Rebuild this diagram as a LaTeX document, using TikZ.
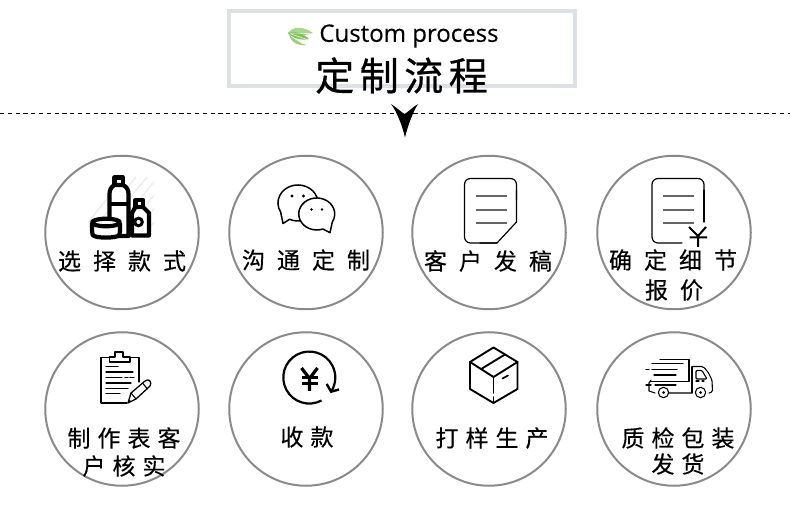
\documentclass[tikz,border=0pt]{standalone}
\usepackage{fontspec}
\newfontfamily\cjk[FakeBold=0.35]{Noto Sans CJK SC}
\newfontfamily\cjkt[FakeBold=0.6]{Noto Sans CJK SC}
\newfontfamily\latinf[FakeBold=0.3]{Open Sans}
\definecolor{framegray}{HTML}{DDE1E6}
\definecolor{ringgray}{HTML}{8A8A8A}
\definecolor{linegray}{HTML}{666666}
\definecolor{leafa}{HTML}{7CC35A}
\definecolor{leafb}{HTML}{A5D88A}
\newcommand{\gp}[1]{\hspace{#1pt}}
\tikzset{
  ring/.style={circle,draw=ringgray,line width=2pt,minimum size=153.5pt,inner sep=0pt,fill=white},
  lab/.style={font=\cjk\fontsize{23}{27}\selectfont,text=black,inner sep=0pt,anchor=center},
  ico/.style={draw=black,line width=1.5pt,line join=round,line cap=round},
  thick ico/.style={draw=black,line width=4.2pt,line join=round},
  thin ico/.style={draw=black,line width=1.1pt,line cap=round,line join=round},
  docline/.style={draw=linegray,line width=1.3pt},
}
\begin{document}
\begin{tikzpicture}[x=1pt,y=-1pt]
\useasboundingbox (0,0) rectangle (790,518);
\fill[white] (0,0) rectangle (790,518);
% header
\node[draw=framegray,line width=4pt,minimum width=346pt,minimum height=75pt,inner sep=0pt] (frame) at (402,48.5) {};
\node[font=\latinf\fontsize{24}{30}\selectfont,inner sep=0pt] (en) at (409,36) {Custom process};
\node[font=\cjkt\fontsize{39}{44}\selectfont,inner sep=0pt] (cn) at (401.5,75.5) {定\hspace{5.5pt}制\hspace{5.5pt}流\hspace{5.5pt}程};
% leaf
\fill[leafb] (288,33) .. controls (293,26) and (303,26) .. (313,33) .. controls (305,36) and (295,36) .. (288,33);
\fill[leafa] (288,33) .. controls (294,30) and (303,33) .. (309,39) .. controls (301,41) and (292,38) .. (288,33);
\fill[leafb!70!leafa] (289,34) .. controls (292,38) and (298,41) .. (306,45) .. controls (298,46) and (290,42) .. (289,34);
\draw[white,line width=.5pt] (290,33) -- (310,33.5) (291,34) -- (307,39.5) (291,36) -- (303,44);
% dashed rule and arrow
\coordinate (ruleL) at (0,113.5);
\coordinate (ruleR) at (790,113.5);
\draw[black,line width=.9pt,dash pattern=on 4.2pt off 3.6pt] (ruleL) -- (ruleR);
\fill[black] (391,104) .. controls (396,107) and (401,112) .. (404.5,114) .. controls (408,112) and (413,107) .. (418,104) .. controls (413,112) and (408,125) .. (405,137.5) .. controls (402,125) and (397,112) .. (391,104) -- cycle;
% rings
\node[ring] (r1) at (122,232.5) {};
\node[ring] (r2) at (306,232.5) {};
\node[ring] (r3) at (489,232.5) {};
\node[ring] (r4) at (674,232.5) {};
\node[ring] (r5) at (122,409) {};
\node[ring] (r6) at (306,409) {};
\node[ring] (r7) at (489,409) {};
\node[ring] (r8) at (674,409) {};
% labels
\node[lab] (t1) at (122,261) {选\gp{12}择\gp{12}款\gp{12}式};
\node[lab] (t2) at (306,260) {沟\gp{12}通\gp{12}定\gp{12}制};
\node[lab] (t3) at (488,261) {客\gp{12}户\gp{12}发\gp{12}稿};
\node[lab] (t4) at (673,260) {确\gp{12}定\gp{12}细\gp{12}节};
\node[lab] (t4b) at (674,290) {报\gp{12}价};
\node[lab] (t5) at (124,438) {制\gp{7}作\gp{7}表\gp{7}客};
\node[lab] (t5b) at (124,466) {户\gp{7}核\gp{7}实};
\node[lab] (t6) at (307,437) {收\gp{7}款};
\node[lab] (t7) at (492,438) {打\gp{7}样\gp{7}生\gp{7}产};
\node[lab] (t8) at (678,438) {质\gp{7}检\gp{7}包\gp{7}装};
\node[lab] (t8b) at (678,464) {发\gp{7}货};
% --- icon 1: bottles
\begin{scope}
\clip (88,177) rectangle (154,226);
\foreach \d in {0,11,...,88}{\draw[black!8,line width=1.2pt] (80+\d,232) -- (125+\d,177);}
\end{scope}
\draw[thick ico,fill=white] (114.5,177.5) rectangle (123,185);
\draw[thick ico,fill=white] (114.5,185) .. controls (111,187) and (109.5,190) .. (109.5,194) -- (109.5,236) -- (128.5,236) -- (128.5,194) .. controls (128.5,190) and (127,187) .. (123,185) -- cycle;
\draw[line width=4.5pt] (109.5,204) -- (128.5,204);
\draw[thick ico,fill=white] (135.5,200) rectangle (143,207);
\draw[thick ico,fill=white] (135.5,207) -- (132,213) -- (132,235.5) -- (149,235.5) -- (149,213) -- (143,207) -- cycle;
\draw[line width=3pt,fill=white] (138.5,222) circle[radius=3.8];
\draw[thick ico,fill=white,rounded corners=2pt] (92,223) -- (92,233) .. controls (94,238.5) and (118,238.5) .. (120,233) -- (120,223);
\draw[thick ico,fill=white] (106,222.5) ellipse[x radius=14,y radius=3.8];
% --- icon 2: chat bubbles
\draw[ico,fill=white] (289.5,219.3) arc[start angle=115,end angle=-210,x radius=20,y radius=18] -- (283,223.5) -- cycle;
\fill (292,196) circle[radius=1.7];
\fill (303.5,196) circle[radius=1.7];
\draw[ico,fill=white] (322.9,229) arc[start angle=70,end angle=390,x radius=18,y radius=16] -- (330,232.7) -- cycle;
\fill (311.5,209.5) circle[radius=1.4];
\fill (322,209.5) circle[radius=1.4];
% --- icon 3: document
\draw[ico,line width=1.2pt,rounded corners=6pt] (497,243) -- (464.5,243) -- (464.5,178.5) -- (516.5,178.5) -- (516.5,200);
\draw[ico,line width=1.2pt] (516.5,190) -- (516.5,222) -- (497,243) -- (480,243);
\draw[docline] (476,196) -- (507,196) (476,210) -- (507,210) (476,223) -- (507,223);
% --- icon 4: priced document
\draw[ico,line width=1.2pt,rounded corners=6pt] (682,243) -- (652,243) -- (652,178.5) -- (704,178.5) -- (704,200);
\draw[ico,line width=1.2pt] (704,190) -- (704,222);
\draw[docline] (663,196) -- (694,196) (663,210) -- (694,210) (663,223) -- (694,223);
\draw[line width=2pt] (689,227) -- (698,236) -- (706,227) (698,236) -- (698,247) (689.5,237.5) -- (707,237.5);
% --- icon 5: clipboard and pencil
\draw[thin ico,line width=1.3pt] (127,403) -- (101,403) -- (101,357.5) -- (109,357.5) (130,357.5) -- (139,357.5) -- (139,382);
\draw[thin ico,line width=1.3pt,fill=white] (109.5,362) -- (109.5,357) -- (115,357) -- (115,352) -- (123,352) -- (123,357) -- (130,357) -- (130,362) -- cycle;
\draw[thin ico] (106,366.5) -- (118,366.5) (106,372) -- (133,372) (106,377.5) -- (122,377.5) (125,377.5) -- (128,377.5) (130,377.5) -- (134,377.5) (106,383) -- (131,383) (106,388.5) -- (128,388.5) (106,393.5) -- (120,393.5);
\draw[ico,line width=1.3pt,fill=white] (128,403) -- (131,393) -- (145,381) .. controls (147,379) and (149,380) .. (150,381) .. controls (151,383) and (151,384) .. (150,386) -- (136,399) -- cycle;
\draw[ico,line width=1.1pt] (131,393) -- (136,399) (142.5,383) -- (147.5,389);
\fill (128,403) -- (129,399.5) -- (131.5,401.5) -- cycle;
% --- icon 6: yen with circular arrow
\draw[line width=2.2pt] (321.5,400.5) arc[start angle=62,end angle=393,radius=26] coordinate (yentip);
\draw[line width=2.4pt,line join=miter] (326.7,384) -- (yentip) -- (339,389.5);
\draw[line width=3.2pt] (301.5,368) -- (309.5,378.5) -- (317.5,368) (309.5,378.5) -- (309.5,391);
\draw[line width=2.6pt] (301.5,377.5) -- (317.5,377.5) (301.5,383.5) -- (317.5,383.5);
% --- icon 7: box
\draw[ico,line width=1.9pt,line cap=butt] (493.5,347.5) -- (517.5,362) -- (517.5,389) -- (493.5,403) -- (470,389) -- (470,362) -- cycle;
\draw[ico,line width=1.9pt] (470,362) -- (493.5,377) -- (517.5,362);
\draw[ico,line width=1.9pt] (482,368.5) -- (505,354.5);
\draw[ico,line width=1.9pt] (493.5,377) -- (493.5,393) (493.5,397) -- (493.5,403);
\draw[ico,line width=1.7pt] (502.5,378.5) -- (508,375.5);
% --- icon 8: truck
\draw[thin ico] (660,359.5) -- (689,359.5) -- (689,381.5) -- (650.5,381.5);
\draw[thin ico] (651,380) -- (649,383) -- (649,391) -- (655,393) (666,393) -- (691,393);
\draw[thin ico] (652,363.5) -- (683,363.5) (646,369.5) -- (649,369.5) (652,369.5) -- (677,369.5) (654,375) -- (676,375) (646,385) -- (651,385) (655,385) -- (676,385);
\draw[thin ico,line width=1.7pt] (692,367) -- (692,393);
\draw[thin ico,rounded corners=1.5pt] (692,366.5) -- (703,366.5) -- (708,372) -- (712,380) -- (712.5,392) -- (709,393);
\draw[thin ico,rounded corners=1pt] (696,370.5) -- (702,370.5) -- (707,379) -- (696,379) -- cycle;
\draw[thin ico] (696,381) -- (699,381) (702,381) -- (704,381);
\draw[thin ico,fill=white] (663.5,392.5) circle[radius=5.2];
\fill (663.5,392.5) circle[radius=1.5];
\draw[thin ico,fill=white] (700.5,392.5) circle[radius=5.2];
\fill (700.5,392.5) circle[radius=1.5];
\end{tikzpicture}
\end{document}
